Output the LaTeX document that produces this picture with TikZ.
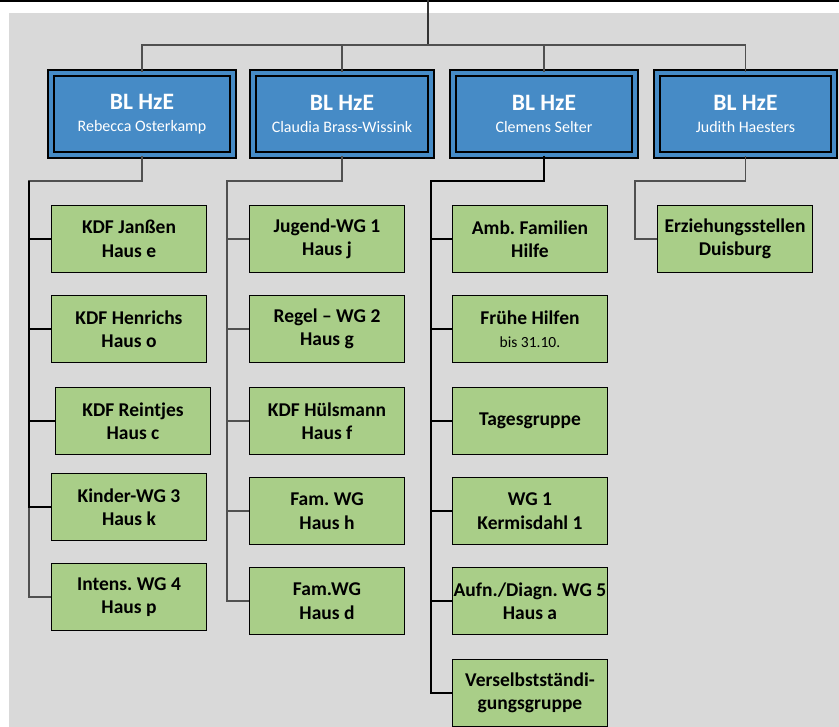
\documentclass[tikz,border=0pt]{standalone}
\usepackage{fontspec}
\setmainfont{Carlito}
\usetikzlibrary{positioning}
\definecolor{hzeblue}{HTML}{468BC6}
\definecolor{hzegreen}{HTML}{A9CE88}
\definecolor{paper}{HTML}{D9D9D9}
\definecolor{wire}{HTML}{505050}
\frenchspacing
\tikzset{
  leitung/.style={draw=black,double=hzeblue,double distance=4pt,line width=1.8pt,
    fill=hzeblue,minimum width=182pt,minimum height=82pt,inner sep=1pt,
    align=center,text=white,font=\fontsize{16}{21.6}\selectfont},
  gruppe/.style={draw=black,line width=1.4pt,fill=hzegreen,minimum width=155pt,
    minimum height=67pt,inner sep=0pt,align=center,
    font=\fontsize{19.5}{23.5}\selectfont\bfseries},
  conn/.style={draw=wire,line width=1.6pt},
  connb/.style={draw=black,line width=1.3pt}
}
\newcommand{\blhze}[1]{{\fontsize{23.5}{21.6}\selectfont\bfseries BL HzE}\\#1}

\begin{document}
\begin{tikzpicture}[x=1pt,y=-1pt]
\useasboundingbox (0,0) rectangle (839,727);
%background
\fill[paper] (9,13) rectangle (839,727);
\fill[black] (0,0) rectangle (839,2.2);
%heads
\node[leitung] (bl1) at (142,114) {\blhze{Rebecca Osterkamp}};
\node[leitung,minimum width=178pt] (bl2) at (342,114) {\blhze{Claudia Brass-Wissink}};
\node[leitung] (bl3) at (544,114) {\blhze{Clemens Selter}};
\node[leitung,minimum width=177pt] (bl4) at (745.5,114) {\blhze{Judith Haesters}};
%groups
\node[gruppe] (a1) at (129,239) {KDF Janßen\\Haus e};
\node[gruppe] (a2) at (129,329) {KDF Henrichs\\Haus o};
\node[gruppe] (a3) at (133,421) {KDF Reintjes\\Haus c};
\node[gruppe] (a4) at (129,507) {Kinder-WG 3\\Haus k};
\node[gruppe] (a5) at (129,597) {Intens. WG 4\\Haus p};
\node[gruppe] (b1) at (327,239) {Jugend-WG 1\\Haus j};
\node[gruppe] (b2) at (327,329) {Regel – WG 2\\Haus g};
\node[gruppe] (b3) at (327,421) {KDF Hülsmann\\Haus f};
\node[gruppe] (b4) at (327,511) {Fam. WG\\Haus h};
\node[gruppe] (b5) at (327,601) {Fam.WG\\Haus d};
\node[gruppe] (c1) at (530,239) {Amb. Familien\\Hilfe};
\node[gruppe] (c2) at (530,329) {Frühe Hilfen\\{\fontsize{15.5}{19}\selectfont\mdseries bis 31.10.}};
\node[gruppe] (c3) at (530,421) {Tagesgruppe};
\node[gruppe] (c4) at (530,511) {WG 1\\Kermisdahl 1};
\node[gruppe] (c5) at (530,601) {Aufn./Diagn. WG 5\\Haus a};
\node[gruppe] (c6) at (530,693) {Verselbstständi-\\gungsgruppe};
\node[gruppe] (d1) at (735,239) {Erziehungsstellen\\Duisburg};
%top bus
\coordinate (top) at (428,0);
\coordinate (bus) at (428,45);
\draw[conn,line width=2.2pt,draw=black!80] (top) -- (bus);
\draw[conn] (bl1.north) |- (bus) -| (bl4.north);
\draw[conn] (bl2.north) |- (bus);
\draw[conn] (bl3.north) |- (bus);
%branches
\coordinate (ja) at (29,181);
\coordinate (jb) at (227,181);
\coordinate (jc) at (431,181);
\coordinate (jd) at (635,181);
\draw[conn] (bl1.south) |- (ja) |- (a5.west);
\foreach \k in {a1,a2,a3,a4} \draw[connb] (ja) |- (\k.west);
\draw[conn,line width=2.2pt] (bl2.south) |- (jb) |- (b5.west);
\foreach \k in {b1,b2,b3,b4} \draw[conn] (jb) |- (\k.west);
\draw[connb] (bl3.south) |- (jc) |- (c6.west);
\foreach \k in {c1,c2,c3,c4,c5} \draw[connb] (jc) |- (\k.west);
\draw[conn] (bl4.south) |- (jd) |- (d1.west);
\end{tikzpicture}
\end{document}
